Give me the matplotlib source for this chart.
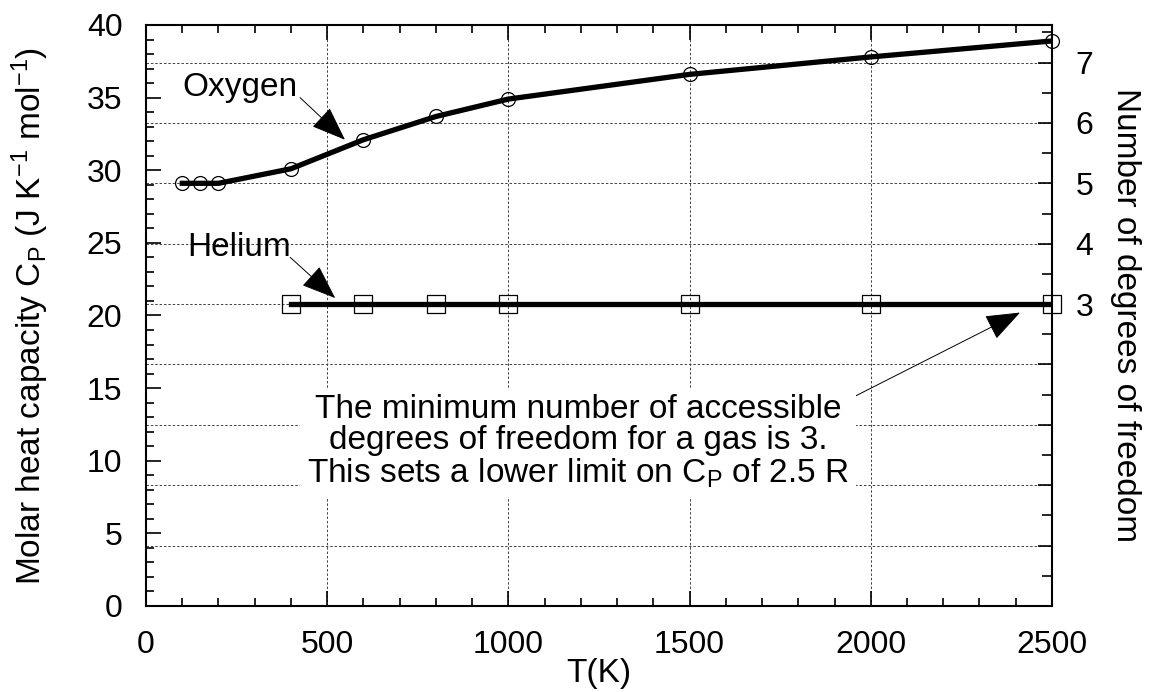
import numpy as np
import matplotlib
matplotlib.use('Agg')
import matplotlib.pyplot as plt
from matplotlib.ticker import MultipleLocator, FixedLocator, FixedFormatter

R = 8.314

# heat capacity data (J/K/mol)
t_oxygen = [100, 150, 200, 400, 600, 800, 1000, 1500, 2000, 2500]
cp_oxygen = [29.1, 29.1, 29.1, 30.1, 32.1, 33.7, 34.9, 36.6, 37.8, 38.9]
t_helium = [400, 600, 800, 1000, 1500, 2000, 2500]
cp_helium = [20.8, 20.8, 20.8, 20.8, 20.8, 20.8, 20.8]

# degrees of freedom shown on the right axis
dof_ticks = [-2, -1, 0, 1, 2, 3, 4, 5, 6, 7]
dof_labels = ['', '', '', '', '', '3', '4', '5', '6', '7']
dof_grid = [-1, 0, 1, 2, 3, 4, 5, 6, 7]


def dof_to_cp(n):
    return R * (np.asarray(n) / 2.0 + 1.0)


def cp_to_dof(cp):
    return 2.0 * (np.asarray(cp) / R - 1.0)


plt.rcParams['font.family'] = ['Liberation Sans', 'DejaVu Sans']
plt.rcParams['font.size'] = 24
plt.rcParams['xtick.labelsize'] = 23
plt.rcParams['ytick.labelsize'] = 23
plt.rcParams['mathtext.fontset'] = 'custom'
plt.rcParams['mathtext.rm'] = 'Liberation Sans'
plt.rcParams['mathtext.it'] = 'Liberation Sans:italic'

fig = plt.figure(figsize=(11.57, 6.92), dpi=100)
ax = fig.add_axes([0.1262, 0.1243, 0.7830, 0.8396])

ax.set_xlim(0, 2500)
ax.set_ylim(0, 40)

# grid: vertical every 500 K, horizontal at each degree of freedom
grid_style = dict(color='0.25', lw=0.7, ls=(0, (2.5, 2)), zorder=1)
for x in [500, 1000, 1500, 2000]:
    ax.axvline(x, **grid_style)
for y in dof_to_cp(dof_grid):
    ax.axhline(y, **grid_style)

ax.plot(t_oxygen, cp_oxygen, color='black', lw=3.8, zorder=3)
ax.plot(t_oxygen, cp_oxygen, ls='none', marker='o', ms=10, mfc='none',
        mec='black', mew=0.9, zorder=4, clip_on=False)
ax.plot(t_helium, cp_helium, color='black', lw=3.8, zorder=3)
ax.plot(t_helium, cp_helium, ls='none', marker='s', ms=13, mfc='none',
        mec='black', mew=0.9, zorder=4, clip_on=False)

arrow = dict(arrowstyle='-|>,head_length=1.0,head_width=0.38',
             mutation_scale=22, lw=0.7, color='black', shrinkA=0, shrinkB=0)

ax.annotate('', xy=(549, 32.1), xytext=(425, 35.0), arrowprops=arrow, zorder=5)
ax.text(100, 35.7, 'Oxygen', ha='left', va='center', zorder=5)

ax.annotate('', xy=(522, 21.2), xytext=(398, 24.0), arrowprops=arrow, zorder=5)
ax.text(115, 24.7, 'Helium', ha='left', va='center', zorder=5)

ax.annotate('', xy=(2412, 20.2), xytext=(1890, 13.6), arrowprops=arrow, zorder=5)
ax.text(1192, 11.3,
        'The minimum number of accessible\n'
        'degrees of freedom for a gas is 3.\n'
        r'This sets a lower limit on C$_\mathregular{P}$ of 2.5 R',
        ha='center', va='center', linespacing=1.0, zorder=5,
        bbox=dict(facecolor='white', edgecolor='none', pad=5))

ax.xaxis.set_major_locator(MultipleLocator(500))
ax.xaxis.set_minor_locator(MultipleLocator(100))
ax.yaxis.set_major_locator(MultipleLocator(5))
ax.yaxis.set_minor_locator(MultipleLocator(1))
ax.tick_params(which='both', direction='in', top=True, right=False, width=1.2)
ax.tick_params(which='major', length=11)
ax.tick_params(which='minor', length=6)
ax.tick_params(axis='x', which='major', pad=17)
ax.tick_params(axis='y', which='major', pad=17)
for s in ax.spines.values():
    s.set_linewidth(1.5)

ax.set_xlabel('T(K)', labelpad=-1)
ax.set_ylabel(r'Molar heat capacity C$_\mathregular{P}$ (J K$^{\mathregular{-1}}$ mol$^{\mathregular{-1}}$)',
              labelpad=26)

# right axis in degrees of freedom
ax2 = ax.twinx()
ax2.set_ylim(cp_to_dof(0), cp_to_dof(40))
ax2.yaxis.set_major_locator(FixedLocator(dof_ticks))
ax2.yaxis.set_major_formatter(FixedFormatter(dof_labels))
ax2.yaxis.set_minor_locator(MultipleLocator(0.5))
ax2.tick_params(which='both', direction='in', width=1.2)
ax2.tick_params(which='major', length=10, pad=17)
ax2.tick_params(which='minor', length=7)
ax2.set_ylabel('Number of degrees of freedom', rotation=270, labelpad=34)
for s in ax2.spines.values():
    s.set_visible(False)

fig.savefig('out.png', dpi=100)
